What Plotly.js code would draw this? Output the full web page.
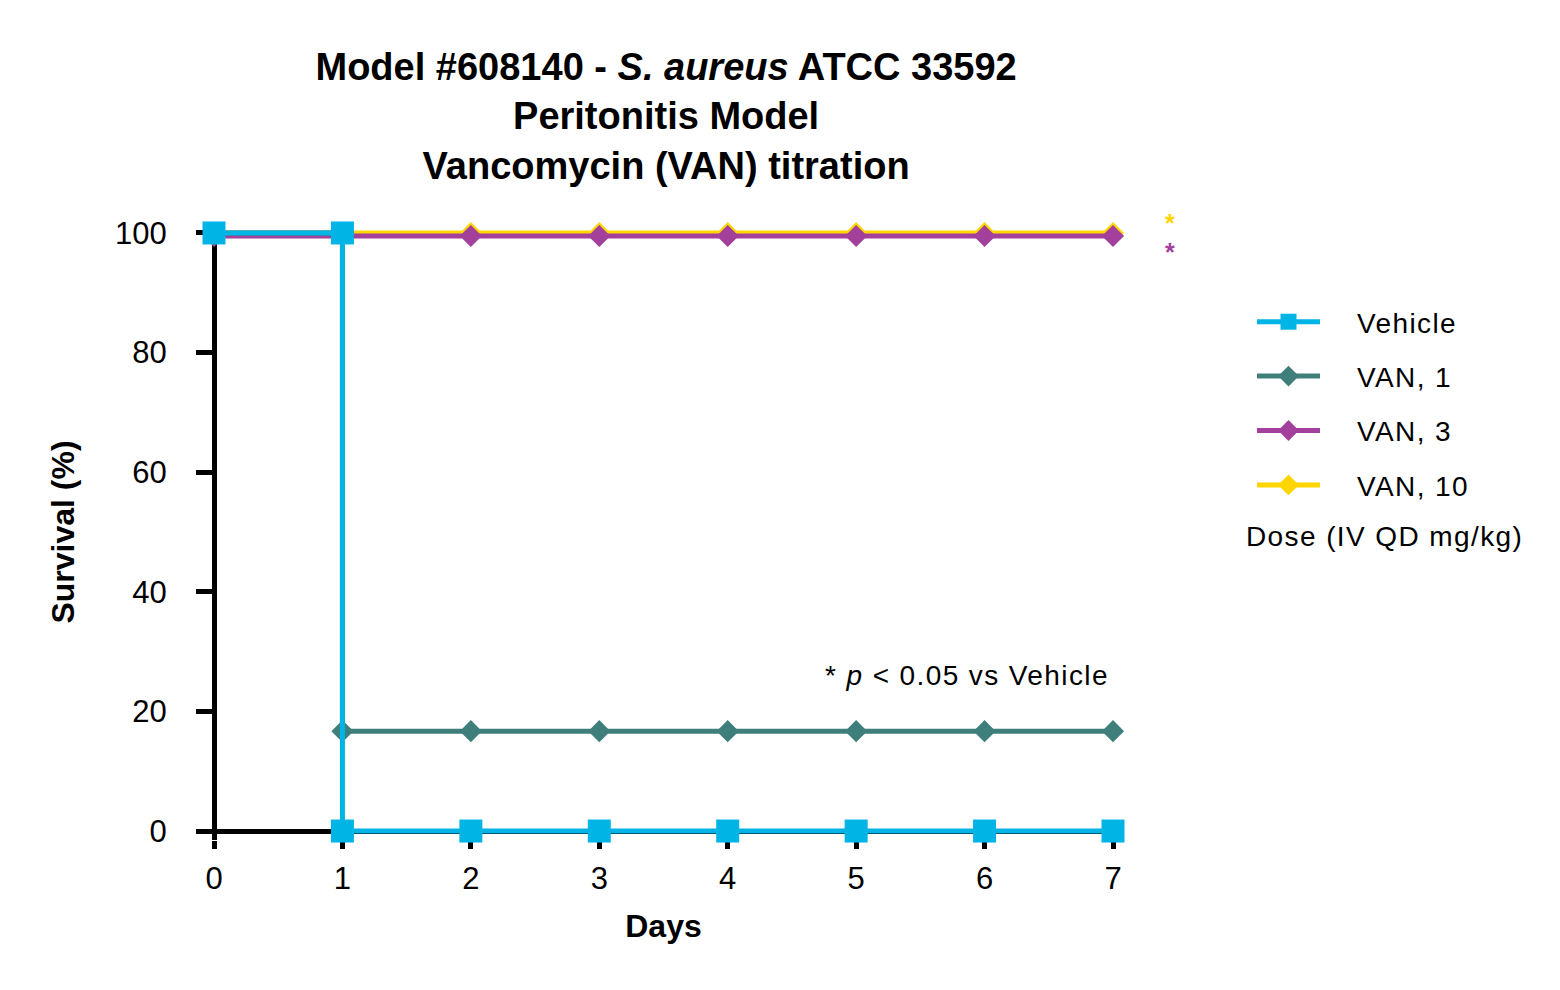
<!DOCTYPE html>
<html>
<head>
<meta charset="utf-8">
<script src="https://cdn.plot.ly/plotly-3.0.1.min.js"></script>
<style>
html,body{margin:0;padding:0;background:#fff;}
#chart{width:1560px;height:990px;}
.legendtext{letter-spacing:1.4px;transform:translateX(32px);}
.legend, .legend *{clip-path:none !important;}
.annotation-text{letter-spacing:1.4px;}
</style>
</head>
<body>
<div id="chart"></div>
<script>
// ---- data ----
const days = [0, 1, 2, 3, 4, 5, 6, 7];
const stepDays = [0, 1, 1, 2, 3, 4, 5, 6, 7];
const vehicleSurv = [100, 100, 0, 0, 0, 0, 0, 0, 0];
const van1Surv = [100, 100, 16.7, 16.7, 16.7, 16.7, 16.7, 16.7, 16.7];
const van3Surv = [99.5, 99.5, 99.5, 99.5, 99.5, 99.5, 99.5, 99.5];
const van10Surv = [100, 100, 100, 100, 100, 100, 100, 100];
const seriesNames = ['Vehicle', 'VAN, 1', 'VAN, 3', 'VAN, 10'];
const yTicks = [0, 20, 40, 60, 80, 100];
const xTicks = [0, 1, 2, 3, 4, 5, 6, 7];

const FONT = 'Liberation Sans, Arial, Helvetica, sans-serif';
const C_VEH = '#00B4E6', C_V1 = '#3E7F7C', C_V3 = '#A2409C', C_V10 = '#FFD500';

// plot-area pixel geometry (used only to place paper-referenced text)
const PL = 214, PW = 899, PB = 840, PH = 616;
const px2x = p => (p - PL) / PW;
const px2y = p => (PB - p) / PH;

function tr(x, y, name, color, symbol, size, rank) {
  return {
    x: x, y: y, name: name, type: 'scatter', mode: 'lines+markers',
    line: {color: color, width: 5},
    marker: {color: color, symbol: symbol, size: size},
    cliponaxis: false, legendrank: rank, legendgroup: 'g' + rank,
    hoverinfo: 'skip'
  };
}

const data = [
  tr(days, van10Surv, seriesNames[3], C_V10, 'diamond', 17, 4),
  tr(days, van3Surv, seriesNames[2], C_V3, 'diamond', 17, 3),
  tr(stepDays, van1Surv, seriesNames[1], C_V1, 'diamond', 17, 2),
  tr(stepDays, vehicleSurv, seriesNames[0], C_VEH, 'square', 23, 1)
];

const layout = {
  width: 1560, height: 990,
  paper_bgcolor: '#fff', plot_bgcolor: '#fff',
  font: {family: FONT, color: '#000', size: 31},
  margin: {l: 214, r: 447, t: 224, b: 150},
  title: {
    text: '<b>Model #608140 - <i>S. aureus</i> ATCC 33592<br>Peritonitis Model<br>Vancomycin (VAN) titration</b>',
    font: {family: FONT, size: 38, color: '#000'},
    x: 0.427, xref: 'container', xanchor: 'center',
    y: 1 - 80 / 990, yref: 'container', yanchor: 'middle'
  },
  xaxis: {
    range: [0, 7], tickvals: xTicks, ticktext: xTicks.map(String),
    showline: false, showgrid: false, zeroline: true, zerolinecolor: '#000', zerolinewidth: 5,
    ticks: 'outside', ticklen: 8, tickwidth: 5, tickcolor: '#000',
    ticklabelstandoff: 3, layer: 'below traces',
    tickfont: {size: 31},
    title: {text: '<b>Days</b>', font: {size: 32}, standoff: 19}
  },
  yaxis: {
    range: [-1.5, 101.5], tickvals: yTicks, ticktext: yTicks.map(String),
    showline: false, showgrid: false, zeroline: true, zerolinecolor: '#000', zerolinewidth: 5,
    ticks: 'outside', ticklen: 17, tickwidth: 5, tickcolor: '#000',
    ticklabelstandoff: 23, layer: 'below traces',
    tickfont: {size: 31},
    title: {text: '<b>Survival (%)</b>', font: {size: 32}, standoff: 30}
  },
  showlegend: true,
  legend: {
    x: px2x(1252), xanchor: 'left', y: px2y(297), yanchor: 'top',
    font: {size: 28}, tracegroupgap: 15, itemwidth: 63,
    bgcolor: 'rgba(0,0,0,0)'
  },
  annotations: [
    {text: '* <i>p</i> &lt; 0.05 vs Vehicle', x: px2x(967), y: px2y(675), xref: 'paper', yref: 'paper',
     xanchor: 'center', yanchor: 'middle', showarrow: false, font: {size: 28}},
    {text: '<b>*</b>', x: px2x(1170), y: px2y(223), xref: 'paper', yref: 'paper', xanchor: 'center', yanchor: 'middle',
     borderpad: 0, showarrow: false, font: {size: 25, color: C_V10}},
    {text: '<b>*</b>', x: px2x(1170), y: px2y(252), xref: 'paper', yref: 'paper', xanchor: 'center', yanchor: 'middle',
     borderpad: 0, showarrow: false, font: {size: 25, color: C_V3}},
    {text: 'Dose (IV QD mg/kg)', x: px2x(1244), y: px2y(536), xref: 'paper', yref: 'paper',
     xanchor: 'left', yanchor: 'middle', showarrow: false, font: {size: 28}}
  ]
};

Plotly.newPlot('chart', data, layout, {displayModeBar: false, staticPlot: true});
</script>
</body>
</html>
